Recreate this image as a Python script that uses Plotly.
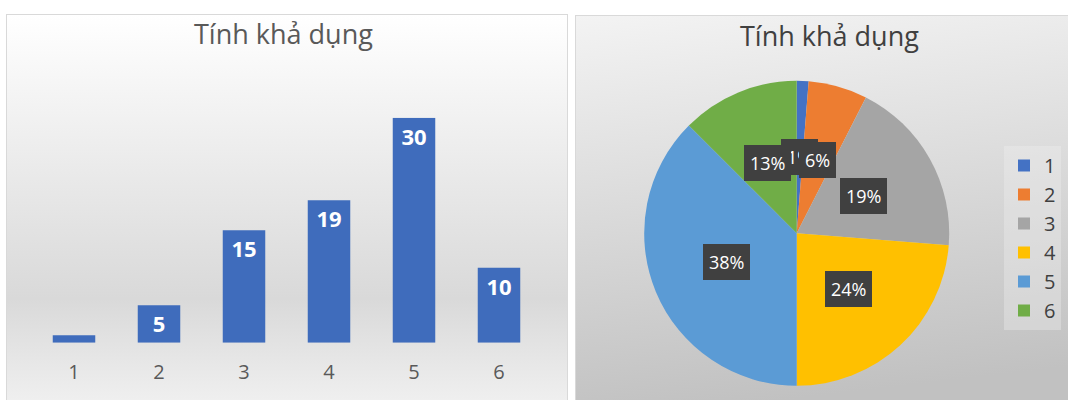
import base64
import math
import plotly.graph_objects as go

# ---- data ----
categories = ["1", "2", "3", "4", "5", "6"]
counts = [1, 5, 15, 19, 30, 10]
title_text = "Tính khả dụng"
pie_colors = ["#4472C4", "#ED7D31", "#A5A5A5", "#FFC000", "#5B9BD5", "#70AD47"]

W, H = 1068, 400

def px(x):
    return x / W

def py(y):
    return 1 - y / H

# ---- background panels (gradient fills) ----
svg = f'''<svg xmlns="http://www.w3.org/2000/svg" width="{W}" height="{H}" viewBox="0 0 {W} {H}" preserveAspectRatio="none">
<defs>
<linearGradient id="g1" x1="0" y1="0" x2="0" y2="1">
<stop offset="0" stop-color="#FFFFFF"/>
<stop offset="0.71" stop-color="#D9D9D9"/>
<stop offset="1" stop-color="#F2F2F2"/>
</linearGradient>
<linearGradient id="g2" x1="0" y1="0" x2="0.15" y2="1">
<stop offset="0" stop-color="#F3F3F3"/>
<stop offset="1" stop-color="#C1C1C1"/>
</linearGradient>
</defs>
<rect x="6.5" y="14.5" width="561" height="400" fill="url(#g1)" stroke="#D9D9D9" stroke-width="1"/>
<rect x="575.5" y="15.5" width="510" height="400" fill="url(#g2)" stroke="#D9D9D9" stroke-width="1"/>
</svg>'''
bg_src = "data:image/svg+xml;base64," + base64.b64encode(svg.encode("utf-8")).decode("ascii")

FONT = "Open Sans"

fig = go.Figure()

# ---- bar chart ----
fig.add_trace(go.Bar(
    x=categories, y=counts,
    marker=dict(color="#3F6CBC", line=dict(width=0)),
    width=0.5,
    text=[str(v) for v in counts],
    textposition="inside",
    insidetextanchor="end",
    constraintext="none",
    textangle=0,
    textfont=dict(family=FONT, size=22, color="white", weight="bold"),
    showlegend=False, hoverinfo="skip",
    xaxis="x", yaxis="y",
))

# ---- pie chart ----
pie_dom_x = [px(644.2), px(949.2)]
pie_dom_y = [py(385.8), py(80.8)]
fig.add_trace(go.Pie(
    labels=categories, values=counts,
    marker=dict(colors=pie_colors, line=dict(width=0)),
    sort=False, direction="clockwise", rotation=0,
    textinfo="none", hoverinfo="skip",
    domain=dict(x=pie_dom_x, y=pie_dom_y),
    showlegend=True,
))

# helper axis for the pie labels (same square as the pie)
fig.add_trace(go.Scatter(x=[], y=[], xaxis="x2", yaxis="y2", showlegend=False, hoverinfo="skip"))

total = sum(counts)
annotations = []
cum = 0
for lab, v in zip(categories, counts):
    mid = (cum + v / 2) / total * 2 * math.pi
    cum += v
    pct = math.floor(v / total * 100 + 0.5)
    annotations.append(dict(
        x=0.5 * math.sin(mid), y=0.5 * math.cos(mid), xref="x2", yref="y2",
        text=f"{pct}%", showarrow=False,
        font=dict(family=FONT, size=18, color="white"),
        bgcolor="#404040", borderpad=6, borderwidth=0,
    ))

# titles
annotations.append(dict(x=px(283), y=py(34), xref="paper", yref="paper", text=title_text,
                        showarrow=False, xanchor="center", yanchor="middle",
                        font=dict(family=FONT, size=27, color="#595959")))
annotations.append(dict(x=px(829), y=py(35), xref="paper", yref="paper", text=title_text,
                        showarrow=False, xanchor="center", yanchor="middle",
                        font=dict(family=FONT, size=27, color="#404040")))

fig.update_layout(
    width=W, height=H,
    margin=dict(l=0, r=0, t=0, b=0),
    paper_bgcolor="white",
    plot_bgcolor="rgba(0,0,0,0)",
    font=dict(family=FONT, color="#595959"),
    xaxis=dict(domain=[px(31.5), px(541.5)], type="category", showgrid=False, zeroline=False,
               showline=False, ticks="", tickfont=dict(family=FONT, size=20, color="#595959"),
               ticklabelstandoff=15, fixedrange=True),
    yaxis=dict(domain=[py(342.7), py(117.7)], range=[0, 30], visible=False, showgrid=False,
               fixedrange=True),
    xaxis2=dict(domain=pie_dom_x, range=[-1, 1], visible=False, anchor="y2"),
    yaxis2=dict(domain=pie_dom_y, range=[-1, 1], visible=False, anchor="x2"),
    legend=dict(x=px(1004), y=py(146), xanchor="left", yanchor="top",
                bgcolor="rgba(240,240,240,0.35)", borderwidth=0,
                font=dict(family=FONT, size=20, color="#404040"),
                traceorder="normal"),
    annotations=annotations,
    images=[dict(source=bg_src, xref="paper", yref="paper", x=0, y=1, sizex=1, sizey=1,
                 xanchor="left", yanchor="top", sizing="stretch", layer="below")],
    bargap=0.5,
)

fig.write_html(
    "out.html",
    config={"displayModeBar": False},
    post_script="document.body.style.margin='0';document.body.style.overflow='hidden';",
)
